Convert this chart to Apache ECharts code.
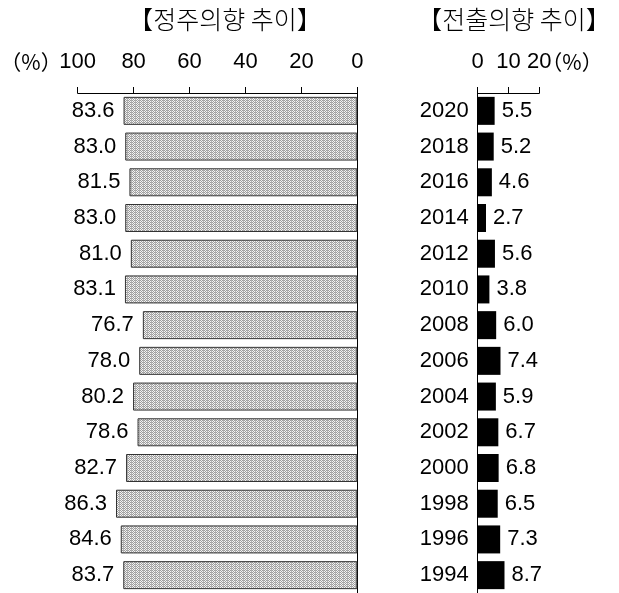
<!DOCTYPE html>
<html>
<head>
<meta charset="utf-8">
<script src="https://cdn.jsdelivr.net/npm/echarts@6/dist/echarts.min.js"></script>
<style>
html,body{margin:0;padding:0;background:#fff;}
#c{width:619px;height:593px;}
</style>
</head>
<body>
<div id="c"></div>
<script>
const years = ['2020','2018','2016','2014','2012','2010','2008','2006','2004','2002','2000','1998','1996','1994'];
const stayValues = [83.6,83.0,81.5,83.0,81.0,83.1,76.7,78.0,80.2,78.6,82.7,86.3,84.6,83.7];
const moveValues = [5.5,5.2,4.6,2.7,5.6,3.8,6.0,7.4,5.9,6.7,6.8,6.5,7.3,8.7];
const stayTicks = [0,20,40,60,80,100];
const moveTicks = [0,10,20];

const numFont = '"Liberation Sans",Arial,sans-serif';
const cjkFont = '"Noto Sans CJK KR","Noto Sans CJK JP",sans-serif';

// dotted grey pattern
const pc = document.createElement('canvas');
pc.width = 4; pc.height = 4;
const px = pc.getContext('2d');
px.fillStyle = '#f4f4f4'; px.fillRect(0,0,4,4);
px.fillStyle = '#9c9c9c';
for (let y = 0; y < 4; y++) for (let x = 0; x < 4; x++) if ((x + y) % 2 === 0) px.fillRect(x,y,1,1);
px.fillStyle = '#b0b0b0';
px.fillRect(3,0,1,4);

const chart = echarts.init(document.getElementById('c'));
const axisLineStyle = {color:'#000', width:1};
chart.setOption({
  animation:false,
  backgroundColor:'#fff',
  grid:[
    {left:77.7, top:93, width:279.6, height:504},
    {left:477.7, top:93, width:61.6, height:504}
  ],
  xAxis:[
    {gridIndex:0, type:'value', position:'top', inverse:true, min:0, max:100, interval:20,
     axisLine:{show:true, lineStyle:axisLineStyle},
     axisTick:{show:true, length:6, lineStyle:axisLineStyle},
     splitLine:{show:false},
     axisLabel:{margin:20, color:'#000', fontFamily:numFont, fontSize:22,
       formatter:v => stayTicks.includes(v) ? String(v) : ''}},
    {gridIndex:1, type:'value', position:'top', min:0, max:20, interval:10,
     axisLine:{show:true, lineStyle:axisLineStyle},
     axisTick:{show:true, length:6, lineStyle:axisLineStyle},
     splitLine:{show:false},
     axisLabel:{margin:20, color:'#000', fontFamily:numFont, fontSize:22,
       formatter:v => moveTicks.includes(v) ? String(v) : ''}}
  ],
  yAxis:[
    {gridIndex:0, type:'category', data:years, inverse:true, position:'right',
     axisLine:{show:true, lineStyle:axisLineStyle}, axisTick:{show:false}, axisLabel:{show:false}},
    {gridIndex:1, type:'category', data:years, inverse:true, position:'left',
     axisLine:{show:true, lineStyle:axisLineStyle}, axisTick:{show:false},
     axisLabel:{margin:9, color:'#000', fontFamily:numFont, fontSize:22}}
  ],
  series:[
    {type:'bar', xAxisIndex:0, yAxisIndex:0, data:stayValues, barWidth:28,
     itemStyle:{color:{image:pc, repeat:'repeat'}, borderColor:'#333', borderWidth:1},
     label:{show:true, position:'left', distance:9, color:'#000', fontFamily:numFont, fontSize:22,
       formatter:p => p.value.toFixed(1)}},
    {type:'bar', xAxisIndex:1, yAxisIndex:1, data:moveValues, barWidth:28,
     itemStyle:{color:'#000'},
     label:{show:true, position:'right', distance:7, color:'#000', fontFamily:numFont, fontSize:22,
       formatter:p => p.value.toFixed(1)}}
  ],
  graphic:[
    {type:'text', style:{text:'【정주의향 추이】', x:225, y:19, align:'center', verticalAlign:'middle', font:'300 25px ' + cjkFont, fill:'#000'}},
    {type:'text', style:{text:'【전출의향 추이】', x:514, y:19, align:'center', verticalAlign:'middle', font:'300 25px ' + cjkFont, fill:'#000'}},
    {type:'text', style:{text:'（%）', x:31, y:62, align:'center', verticalAlign:'middle', font:'21px ' + cjkFont, fill:'#000'}},
    {type:'text', style:{text:'（%）', x:572, y:62, align:'center', verticalAlign:'middle', font:'21px ' + cjkFont, fill:'#000'}}
  ]
});
</script>
</body>
</html>
